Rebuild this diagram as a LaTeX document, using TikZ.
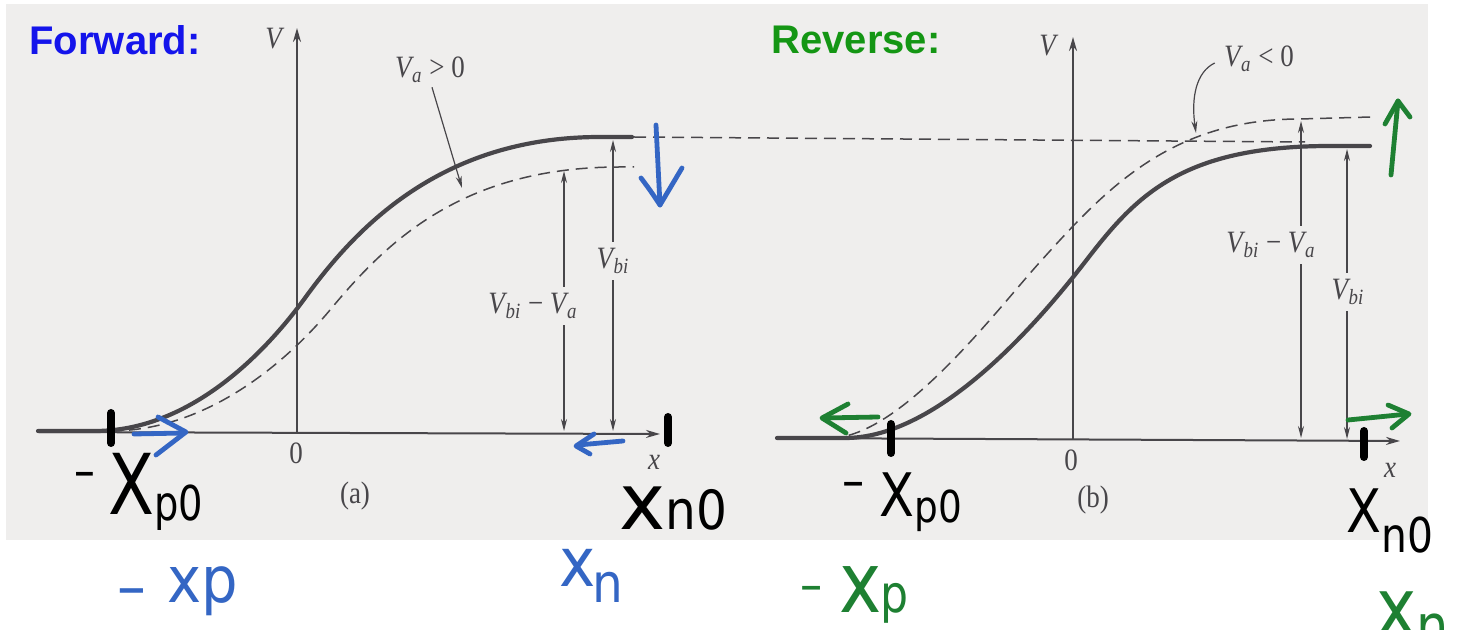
\documentclass[tikz,border=0pt]{standalone}
\usepackage{fontspec}
\setmainfont{Liberation Serif}
\newfontfamily\labelfont{Liberation Sans}
\newfontfamily\handfont{DejaVu Sans}
\usetikzlibrary{arrows.meta}
\definecolor{scanbg}{RGB}{239,238,237}
\definecolor{ink}{RGB}{72,70,74}
\definecolor{fwdblue}{RGB}{20,20,235}
\definecolor{revgreen}{RGB}{20,150,20}
\definecolor{penblue}{RGB}{52,102,196}
\definecolor{pengreen}{RGB}{30,128,50}
\newcommand{\Vsym}[1]{\textit{V}\kern-1pt\textsubscript{\textit{#1}}}
\newcommand{\hw}[2]{{\fontsize{#1}{#1}\selectfont #2}}
\newcommand{\tb}[1]{\scalebox{1}[1.15]{#1}}
\begin{document}
\begin{tikzpicture}[x=0.5pt,y=-0.5pt,
  axis/.style={draw=ink, line width=1pt, -{Stealth[length=7pt,width=4pt]}},
  curvethick/.style={draw=ink, line width=2.1pt, line cap=round},
  curvedash/.style={draw=ink, line width=0.75pt, dash pattern=on 6pt off 3.5pt},
  dim/.style={draw=ink, line width=0.6pt, -{Stealth[length=6pt,width=3pt]}},
  lbl/.style={font=\fontsize{13.5}{14}\selectfont, text=ink, inner sep=2pt},
  title/.style={font=\labelfont\bfseries\fontsize{20}{20}\selectfont, inner sep=0pt},
  pen/.style={line width=2.4pt, line cap=round, line join=round},
  tickmark/.style={draw=black, line width=4pt, line cap=round},
  hand/.style={font=\handfont, inner sep=0pt, anchor=base west},
]
\useasboundingbox (0,0) rectangle (1464,630);
\clip (0,0) rectangle (1464,630);
\fill[white] (0,0) rectangle (1464,630);
\fill[scanbg] (6,4) rectangle (1428,540);

% ---------------- titles
\node[title, text=fwdblue] (fwd) at (115,40) {Forward:};
\node[title, text=revgreen] (rev) at (856,40) {Reverse:};

% ---------------- panel (a)
\coordinate (Oa) at (297,432);
\coordinate (Vtopa) at (297,28);
\coordinate (xla) at (38,432);
\coordinate (xra) at (660,434);
\draw[axis] (Oa) -- (Vtopa);
\draw[axis] (xla) -- (xra);

\draw[curvedash] (110,431) .. controls (210,431) and (290,358) .. (330,310)
                 .. controls (385,244) and (460,167) .. (620,167) -- (634,167);
\draw[curvethick] (38,431) -- (95,431) .. controls (190,431) and (265,353) .. (305,298)
                 .. controls (355,229) and (440,137) .. (600,137) -- (632,137);
\draw[curvedash] (634,137) -- (1305,142);

\node[lbl] (Va) at (275,39) {\tb{\textit{V}}};
\node[lbl] (Vapos) at (430,70) {\tb{\Vsym{a} > 0}};
\node[lbl] (zeroa) at (296,453) {\tb{0}};
\node[lbl] (xa) at (654,462) {\tb{\textit{x}}};
\node[lbl] (capa) at (355,496) {\tb{(a)}};
\node[lbl, inner sep=3pt] (Vbia) at (613,261) {\tb{\Vsym{bi}}};
\node[lbl, inner sep=3pt] (Vbiaa) at (533,306) {\tb{\Vsym{bi} − \Vsym{a}}};

\coordinate (VaposTip) at (462,188);
\draw[dim] ([xshift=1pt]Vapos.south) -- (VaposTip);
\coordinate (VbiaTop) at (613,140);
\coordinate (VbiaBot) at (613,431);
\draw[dim] (Vbia.north) -- (VbiaTop);
\draw[dim] (Vbia.south) -- (VbiaBot);
\coordinate (VbiaaTop) at (564,171);
\coordinate (VbiaaBot) at (564,431);
\draw[dim] (Vbiaa.north -| VbiaaTop) -- (VbiaaTop);
\draw[dim] (Vbiaa.south -| VbiaaBot) -- (VbiaaBot);

% ---------------- panel (b)
\coordinate (Ob) at (1073,439);
\coordinate (Vtopb) at (1073,37);
\coordinate (xlb) at (777,438);
\coordinate (xrb) at (1400,441);
\draw[axis] (Ob) -- (Vtopb);
\draw[axis] (xlb) -- (xrb);

\draw[curvedash] (830,438) .. controls (900,438) and (995,312) .. (1040,262)
                 .. controls (1105,190) and (1170,119) .. (1300,119) -- (1371,117);
\draw[curvethick] (777,438) -- (845,438) .. controls (940,438) and (1040,320) .. (1085,262)
                 .. controls (1135,197) and (1180,146) .. (1330,146) -- (1370,146);

\node[lbl] (Vb) at (1049,46) {\tb{\textit{V}}};
\node[lbl] (Vaneg) at (1259,59) {\tb{\Vsym{a} < 0}};
\node[lbl] (zerob) at (1071,460) {\tb{0}};
\node[lbl] (xb) at (1390,470) {\tb{\textit{x}}};
\node[lbl] (capb) at (1093,500) {\tb{(b)}};
\node[lbl, inner sep=3pt] (Vbib) at (1348,292) {\tb{\Vsym{bi}}};
\node[lbl, inner sep=3pt] (Vbiab) at (1271,245) {\tb{\Vsym{bi} − \Vsym{a}}};

\coordinate (VanegTip) at (1196,133);
\draw[dim] ([shift={(-5,4)}]Vaneg.west) .. controls (1196,72) and (1191,98) .. (VanegTip);
\coordinate (VbibTop) at (1347,149);
\coordinate (VbibBot) at (1347,439);
\draw[dim] (Vbib.north -| VbibTop) -- (VbibTop);
\draw[dim] (Vbib.south -| VbibBot) -- (VbibBot);
\coordinate (VbiabTop) at (1301,121);
\coordinate (VbiabBot) at (1301,438);
\draw[dim] (Vbiab.north -| VbiabTop) -- (VbiabTop);
\draw[dim] (Vbiab.south -| VbiabBot) -- (VbiabBot);

% ---------------- handwritten marks
\draw[tickmark] (111,413) -- (111,443);
\draw[tickmark] (668,417) -- (668,443);
\draw[tickmark] (891,424) -- (891,453);
\draw[tickmark] (1364,431) -- (1364,457);

% blue (forward)
\draw[pen, penblue] (656,125) -- (660,205);
\draw[pen, penblue] (641,178) .. controls (650,190) .. (660,205) -- (682,168);
\draw[pen, penblue] (134,434) -- (184,433);
\draw[pen, penblue] (158,417) -- (186,432) -- (156,455);
\draw[pen, penblue] (623,441) -- (578,445);
\draw[pen, penblue] (594,434) -- (576,446) -- (590,454);

% green (reverse)
\draw[pen, pengreen] (1391,175) -- (1398,101);
\draw[pen, pengreen] (1385,124) -- (1398,101) -- (1410,117);
\draw[pen, pengreen] (878,417) -- (823,418);
\draw[pen, pengreen] (848,404) -- (822,418) -- (846,433);
\draw[pen, pengreen] (1348,420) -- (1408,414);
\draw[pen, pengreen] (1388,405) -- (1409,414) -- (1392,428);

% handwritten labels
\node[hand, text=black] (xp0a) at (74,515) {\scalebox{0.8}[1]{\raisebox{13pt}{\hw{26}{–}}\hspace{8pt}\hw{42}{X}\raisebox{-3pt}{\hw{24}{p0}}}};
\node[hand, text=black] (xn0a) at (619,530) {\hw{39}{x}\scalebox{0.9}[1]{\hw{27}{n0}}};
\node[hand, text=black] (xp0b) at (842,517) {\scalebox{0.85}[1]{\raisebox{9pt}{\hw{26}{–}}\hspace{9pt}\hw{30}{X}\raisebox{-3pt}{\hw{22}{p0}}}};
\node[hand, text=black] (xn0b) at (1346,533) {\scalebox{0.85}[1]{\hw{30}{X}\raisebox{-10pt}{\hw{24}{n0}}}};
\node[hand, text=penblue] (xpa) at (117,603) {\scalebox{0.9}[1]{\raisebox{-3pt}{\hw{32}{–}}\hspace{12pt}\hw{32}{xp}}};
\node[hand, text=penblue] (xna) at (559,587) {\scalebox{0.9}[1]{\hw{34}{x}\hspace{-2pt}\raisebox{-8pt}{\hw{27}{n}}}};
\node[hand, text=pengreen] (xpb) at (800,613) {\scalebox{0.85}[1]{\raisebox{5pt}{\hw{26}{–}}\hspace{10pt}\hw{42}{x}\hspace{-1pt}\hw{26}{p}}};
\node[hand, text=pengreen] (xnb) at (1376,636) {\scalebox{0.85}[1]{\hw{40}{x}\raisebox{-6pt}{\hw{30}{n}}}};
\end{tikzpicture}
\end{document}
